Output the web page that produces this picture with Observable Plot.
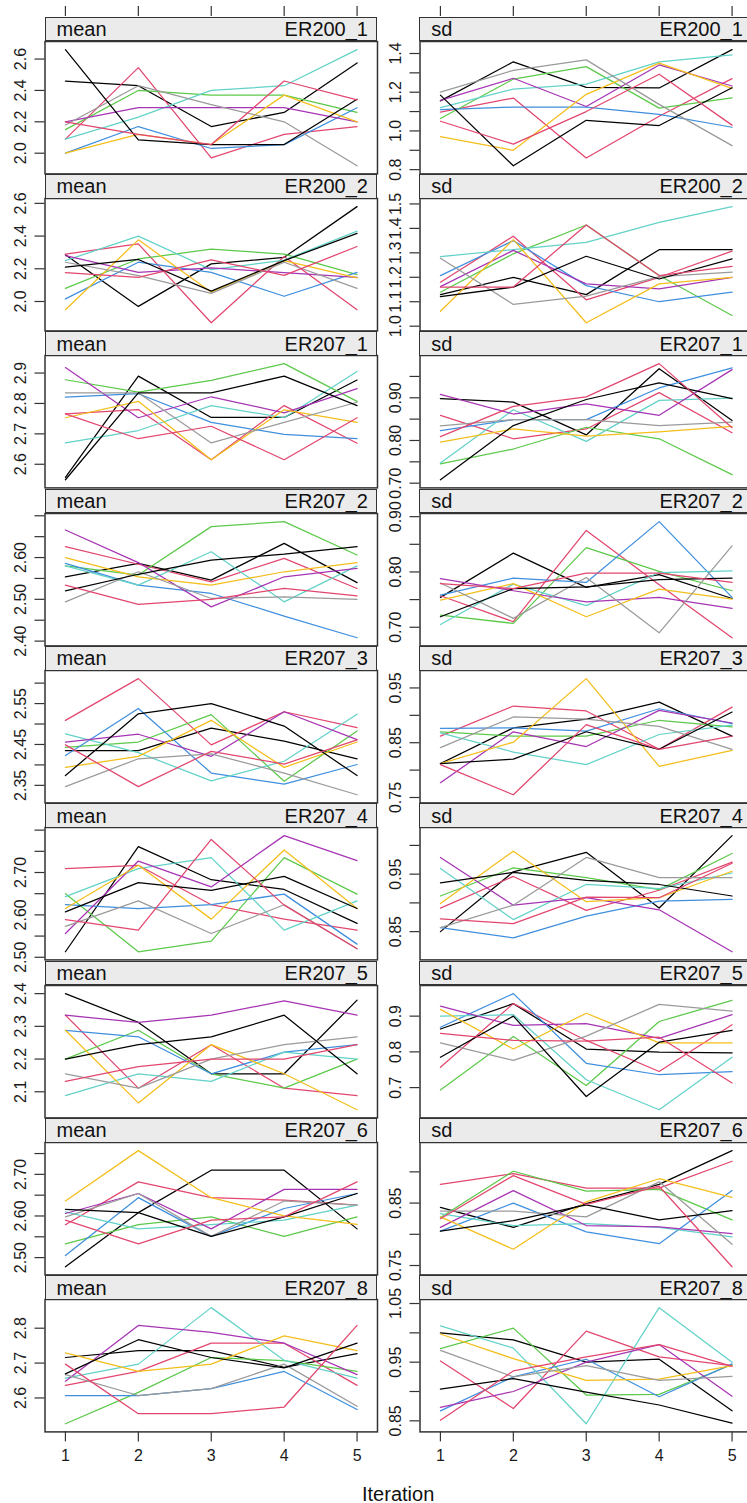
<!DOCTYPE html>
<html>
<head>
<meta charset="utf-8">
<script src="https://cdn.jsdelivr.net/npm/d3@7"></script>
<script src="https://cdn.jsdelivr.net/npm/@observablehq/plot@0.6"></script>
<style>
  html, body { margin: 0; padding: 0; background: #fff; overflow: hidden; width: 747px; height: 1503px; }
  #chart { position: relative; width: 747px; height: 1503px; font-family: "Liberation Sans", Arial, Helvetica, sans-serif; color: #111; }
  .strip { position: absolute; box-sizing: border-box; background: #ebebeb; border: 1.5px solid #333;
           display: flex; justify-content: space-between; align-items: center;
           font-size: 20px; line-height: 1; padding: 0 8px 0 11px; white-space: nowrap; }
  .panel { position: absolute; }
  .panel svg { overflow: visible; display: block; }
  .xtitle { position: absolute; font-size: 20px; text-align: center; line-height: 24px; }
</style>
</head>
<body>
<div id="chart"></div>
<script>
// Convergence traces of the imputation chains: mean and sd per variable, 5 iterations, 10 chains.
const iterations = [1, 2, 3, 4, 5];
const variables = ["ER200_1", "ER200_2", "ER207_1", "ER207_2", "ER207_3", "ER207_4", "ER207_5", "ER207_6", "ER207_8"];
const statistics = ["mean", "sd"];
// chain colours (palette recycled for chains 9 and 10)
const chainColors = ["#000000", "#E2466E", "#5CC94A", "#3F8FDE", "#62D2C8", "#A634B3", "#F4BE1B", "#9A9A9A", "#000000", "#E2466E"];

// one row per chain, one value per iteration
const mean_ER200_1 = [
  [2.46, 2.43, 2.17, 2.26, 2.575], [2.09, 2.545, 1.97, 2.12, 2.17], [2.15, 2.40, 2.37, 2.37, 2.26],
  [2.00, 2.17, 2.03, 2.055, 2.29], [2.09, 2.23, 2.40, 2.43, 2.66], [2.20, 2.29, 2.29, 2.29, 2.20],
  [2.00, 2.12, 2.055, 2.37, 2.20], [2.18, 2.43, 2.31, 2.20, 1.92], [2.66, 2.085, 2.055, 2.055, 2.344],
  [2.20, 2.12, 2.055, 2.46, 2.34]];
const sd_ER200_1 = [
  [1.155, 1.357, 1.225, 1.222, 1.42], [1.097, 1.17, 0.86, 1.076, 1.27], [1.064, 1.268, 1.332, 1.118, 1.171],
  [1.11, 1.123, 1.123, 1.085, 1.019], [1.12, 1.216, 1.242, 1.357, 1.393], [1.158, 1.272, 1.126, 1.341, 1.232],
  [0.97, 0.90, 1.189, 1.35, 1.22], [1.20, 1.313, 1.367, 1.137, 0.924], [1.185, 0.82, 1.055, 1.028, 1.223],
  [1.05, 0.932, 1.10, 1.293, 1.03]];
const mean_ER200_2 = [
  [2.286, 1.97, 2.23, 2.27, 2.58], [2.29, 2.352, 1.87, 2.275, 1.95], [2.08, 2.26, 2.32, 2.29, 2.164],
  [2.016, 2.24, 2.178, 2.032, 2.178], [2.25, 2.40, 2.195, 2.253, 2.43], [2.28, 2.178, 2.205, 2.176, 2.148],
  [1.95, 2.377, 2.057, 2.25, 2.144], [2.24, 2.158, 2.05, 2.24, 2.08], [2.21, 2.257, 2.063, 2.25, 2.417],
  [2.176, 2.148, 2.255, 2.16, 2.336]];
const sd_ER200_2 = [
  [1.129, 1.20, 1.129, 1.313, 1.313], [1.18, 1.368, 1.108, 1.20, 1.307], [1.139, 1.296, 1.414, 1.207, 1.044],
  [1.207, 1.35, 1.166, 1.10, 1.139], [1.285, 1.313, 1.343, 1.425, 1.489], [1.162, 1.31, 1.173, 1.153, 1.20],
  [1.061, 1.354, 1.014, 1.173, 1.20], [1.278, 1.089, 1.123, 1.203, 1.221], [1.121, 1.16, 1.286, 1.193, 1.275],
  [1.16, 1.16, 1.414, 1.207, 1.245]];
const mean_ER207_1 = [
  [2.557, 2.89, 2.754, 2.754, 2.877], [2.766, 2.78, 2.615, 2.793, 2.669], [2.878, 2.837, 2.876, 2.931, 2.807],
  [2.821, 2.832, 2.738, 2.698, 2.684], [2.67, 2.711, 2.793, 2.753, 2.905], [2.918, 2.753, 2.822, 2.769, 2.849],
  [2.753, 2.807, 2.615, 2.779, 2.738], [2.835, 2.835, 2.67, 2.738, 2.804], [2.549, 2.835, 2.835, 2.89, 2.793],
  [2.766, 2.684, 2.725, 2.615, 2.753]];
const sd_ER207_1 = [
  [0.898, 0.89, 0.813, 0.968, 0.847], [0.859, 0.804, 0.827, 0.912, 0.818], [0.745, 0.78, 0.831, 0.804, 0.72],
  [0.823, 0.849, 0.849, 0.923, 0.97], [0.747, 0.872, 0.798, 0.894, 0.899], [0.908, 0.862, 0.886, 0.859, 0.966],
  [0.796, 0.827, 0.81, 0.82, 0.833], [0.834, 0.849, 0.849, 0.835, 0.843], [0.708, 0.835, 0.896, 0.935, 0.898],
  [0.809, 0.88, 0.902, 0.98, 0.83]];
const mean_ER207_2 = [
  [2.554, 2.586, 2.546, 2.634, 2.54], [2.626, 2.584, 2.542, 2.598, 2.526], [2.58, 2.558, 2.674, 2.686, 2.606],
  [2.586, 2.534, 2.514, 2.46, 2.408], [2.58, 2.534, 2.614, 2.494, 2.58], [2.666, 2.588, 2.482, 2.554, 2.574],
  [2.60, 2.554, 2.534, 2.566, 2.588], [2.494, 2.566, 2.502, 2.506, 2.50], [2.52, 2.56, 2.594, 2.608, 2.626],
  [2.534, 2.488, 2.50, 2.526, 2.508]];
const sd_ER207_2 = [
  [0.754, 0.834, 0.772, 0.795, 0.752], [0.757, 0.71, 0.875, 0.777, 0.681], [0.722, 0.707, 0.844, 0.801, 0.766],
  [0.758, 0.789, 0.781, 0.891, 0.754], [0.705, 0.778, 0.739, 0.799, 0.802], [0.788, 0.766, 0.746, 0.754, 0.734],
  [0.749, 0.779, 0.719, 0.769, 0.751], [0.78, 0.716, 0.79, 0.69, 0.847], [0.719, 0.77, 0.773, 0.786, 0.789],
  [0.779, 0.77, 0.798, 0.798, 0.781]];
const mean_ER207_3 = [
  [2.435, 2.435, 2.49, 2.458, 2.415], [2.509, 2.611, 2.449, 2.53, 2.491], [2.443, 2.456, 2.523, 2.36, 2.483],
  [2.423, 2.538, 2.38, 2.353, 2.401], [2.476, 2.43, 2.361, 2.409, 2.524], [2.456, 2.475, 2.421, 2.53, 2.462],
  [2.394, 2.421, 2.509, 2.394, 2.456], [2.347, 2.415, 2.427, 2.38, 2.327], [2.374, 2.525, 2.55, 2.495, 2.374],
  [2.449, 2.347, 2.433, 2.402, 2.461]];
const sd_ER207_3 = [
  [0.812, 0.877, 0.893, 0.924, 0.862], [0.862, 0.917, 0.908, 0.838, 0.915], [0.87, 0.862, 0.862, 0.891, 0.879],
  [0.876, 0.877, 0.871, 0.912, 0.885], [0.868, 0.833, 0.81, 0.865, 0.882], [0.777, 0.87, 0.843, 0.909, 0.886],
  [0.812, 0.851, 0.967, 0.807, 0.836], [0.841, 0.897, 0.893, 0.88, 0.838], [0.812, 0.82, 0.87, 0.838, 0.906],
  [0.81, 0.755, 0.883, 0.838, 0.862]];
const mean_ER207_4 = [
  [2.513, 2.761, 2.683, 2.66, 2.58], [2.709, 2.717, 2.624, 2.59, 2.564], [2.65, 2.513, 2.538, 2.735, 2.649],
  [2.624, 2.615, 2.624, 2.649, 2.531], [2.643, 2.709, 2.735, 2.564, 2.633], [2.556, 2.727, 2.666, 2.787, 2.728],
  [2.615, 2.717, 2.59, 2.753, 2.615], [2.573, 2.633, 2.556, 2.624, 2.52], [2.607, 2.676, 2.658, 2.691, 2.615],
  [2.589, 2.564, 2.778, 2.623, 2.52]];
const sd_ER207_4 = [
  [0.85, 0.954, 0.988, 0.891, 1.017], [0.891, 0.946, 0.887, 0.922, 0.971], [0.912, 0.961, 0.944, 0.923, 0.986],
  [0.857, 0.839, 0.877, 0.903, 0.906], [0.96, 0.871, 0.932, 0.925, 0.952], [0.979, 0.896, 0.909, 0.888, 0.815],
  [0.899, 0.99, 0.902, 0.909, 0.955], [0.857, 0.896, 0.979, 0.944, 0.944], [0.935, 0.953, 0.939, 0.932, 0.912],
  [0.872, 0.864, 0.91, 0.909, 0.969]];
const mean_ER207_5 = [
  [2.40, 2.312, 2.155, 2.155, 2.38], [2.334, 2.111, 2.244, 2.111, 2.088], [2.20, 2.288, 2.155, 2.111, 2.20],
  [2.288, 2.268, 2.155, 2.221, 2.244], [2.088, 2.155, 2.132, 2.221, 2.20], [2.334, 2.312, 2.334, 2.378, 2.334],
  [2.288, 2.066, 2.244, 2.155, 2.045], [2.155, 2.111, 2.20, 2.244, 2.268], [2.20, 2.244, 2.268, 2.334, 2.155],
  [2.132, 2.177, 2.20, 2.20, 2.244]];
const sd_ER207_5 = [
  [0.864, 0.935, 0.808, 0.799, 0.797], [0.757, 0.935, 0.832, 0.745, 0.876], [0.693, 0.843, 0.706, 0.885, 0.944],
  [0.869, 0.963, 0.768, 0.736, 0.745], [0.90, 0.904, 0.722, 0.638, 0.785], [0.928, 0.874, 0.879, 0.838, 0.904],
  [0.919, 0.808, 0.908, 0.825, 0.825], [0.825, 0.776, 0.844, 0.933, 0.914], [0.785, 0.90, 0.675, 0.827, 0.86],
  [0.852, 0.832, 0.83, 0.841, 0.713]];
const mean_ER207_6 = [
  [2.478, 2.608, 2.71, 2.71, 2.569], [2.579, 2.682, 2.644, 2.638, 2.626], [2.533, 2.579, 2.598, 2.551, 2.598],
  [2.505, 2.644, 2.551, 2.618, 2.654], [2.61, 2.569, 2.579, 2.59, 2.626], [2.606, 2.654, 2.569, 2.664, 2.664],
  [2.636, 2.757, 2.644, 2.60, 2.58], [2.598, 2.654, 2.551, 2.636, 2.626], [2.616, 2.608, 2.551, 2.598, 2.654],
  [2.59, 2.533, 2.59, 2.598, 2.682]];
const sd_ER207_6 = [
  [0.843, 0.811, 0.849, 0.88, 0.934], [0.88, 0.897, 0.874, 0.874, 0.917], [0.827, 0.901, 0.869, 0.872, 0.823],
  [0.805, 0.85, 0.804, 0.785, 0.87], [0.833, 0.814, 0.817, 0.811, 0.796], [0.811, 0.87, 0.814, 0.812, 0.801],
  [0.828, 0.776, 0.852, 0.889, 0.859], [0.837, 0.837, 0.828, 0.884, 0.784], [0.805, 0.822, 0.847, 0.823, 0.838],
  [0.825, 0.894, 0.848, 0.877, 0.748]];
const mean_ER207_8 = [
  [2.716, 2.736, 2.736, 2.688, 2.727], [2.636, 2.676, 2.757, 2.757, 2.636], [2.526, 2.616, 2.716, 2.707, 2.676],
  [2.607, 2.607, 2.627, 2.676, 2.567], [2.657, 2.697, 2.859, 2.708, 2.657], [2.648, 2.808, 2.788, 2.757, 2.667],
  [2.729, 2.676, 2.697, 2.778, 2.736], [2.667, 2.607, 2.627, 2.697, 2.576], [2.669, 2.767, 2.716, 2.686, 2.757],
  [2.697, 2.555, 2.555, 2.574, 2.808]];
const sd_ER207_8 = [
  [1.00, 0.988, 0.95, 0.955, 0.867], [0.952, 0.871, 1.003, 0.959, 0.944], [0.973, 1.008, 0.894, 0.895, 0.946],
  [0.867, 0.925, 0.955, 0.891, 0.947], [1.012, 0.974, 0.845, 1.043, 0.95], [0.873, 0.90, 0.95, 0.98, 0.892],
  [0.998, 0.956, 0.919, 0.921, 0.944], [0.97, 0.925, 0.944, 0.919, 0.926], [0.904, 0.922, 0.899, 0.877, 0.846],
  [0.851, 0.935, 0.959, 0.98, 0.943]];

// y tick positions and the tick labels printed beside them
const yTicks_mean_ER200_1 = [2.0, 2.2, 2.4, 2.6];
const yLabels_mean_ER200_1 = ["2.0", "2.2", "2.4", "2.6"];
const yTicks_sd_ER200_1 = [0.8, 0.9, 1.0, 1.1, 1.2, 1.3, 1.4];
const yLabels_sd_ER200_1 = ["0.8", "1.0", "1.2", "1.4"];
const yTicks_mean_ER200_2 = [2.0, 2.2, 2.4, 2.6];
const yLabels_mean_ER200_2 = ["2.0", "2.2", "2.4", "2.6"];
const yTicks_sd_ER200_2 = [1.0, 1.1, 1.2, 1.3, 1.4, 1.5];
const yLabels_sd_ER200_2 = ["1.0", "1.1", "1.2", "1.3", "1.4", "1.5"];
const yTicks_mean_ER207_1 = [2.6, 2.7, 2.8, 2.9];
const yLabels_mean_ER207_1 = ["2.6", "2.7", "2.8", "2.9"];
const yTicks_sd_ER207_1 = [0.70, 0.75, 0.80, 0.85, 0.90, 0.95];
const yLabels_sd_ER207_1 = ["0.70", "0.80", "0.90"];
const yTicks_mean_ER207_2 = [2.40, 2.45, 2.50, 2.55, 2.60, 2.65, 2.70];
const yLabels_mean_ER207_2 = ["2.40", "2.50", "2.60"];
const yTicks_sd_ER207_2 = [0.70, 0.75, 0.80, 0.85, 0.90];
const yLabels_sd_ER207_2 = ["0.70", "0.80", "0.90"];
const yTicks_mean_ER207_3 = [2.35, 2.40, 2.45, 2.50, 2.55, 2.60];
const yLabels_mean_ER207_3 = ["2.35", "2.45", "2.55"];
const yTicks_sd_ER207_3 = [0.75, 0.80, 0.85, 0.90, 0.95];
const yLabels_sd_ER207_3 = ["0.75", "0.85", "0.95"];
const yTicks_mean_ER207_4 = [2.50, 2.55, 2.60, 2.65, 2.70, 2.75, 2.80];
const yLabels_mean_ER207_4 = ["2.50", "2.60", "2.70"];
const yTicks_sd_ER207_4 = [0.85, 0.90, 0.95, 1.00];
const yLabels_sd_ER207_4 = ["0.85", "0.95"];
const yTicks_mean_ER207_5 = [2.1, 2.2, 2.3, 2.4];
const yLabels_mean_ER207_5 = ["2.1", "2.2", "2.3", "2.4"];
const yTicks_sd_ER207_5 = [0.7, 0.8, 0.9];
const yLabels_sd_ER207_5 = ["0.7", "0.8", "0.9"];
const yTicks_mean_ER207_6 = [2.50, 2.55, 2.60, 2.65, 2.70, 2.75];
const yLabels_mean_ER207_6 = ["2.50", "2.60", "2.70"];
const yTicks_sd_ER207_6 = [0.75, 0.80, 0.85, 0.90];
const yLabels_sd_ER207_6 = ["0.75", "0.85"];
const yTicks_mean_ER207_8 = [2.6, 2.7, 2.8];
const yLabels_mean_ER207_8 = ["2.6", "2.7", "2.8"];
const yTicks_sd_ER207_8 = [0.85, 0.90, 0.95, 1.00, 1.05];
const yLabels_sd_ER207_8 = ["0.85", "0.95", "1.05"];

const panelSpecs = [
  [mean_ER200_1, yTicks_mean_ER200_1, yLabels_mean_ER200_1, sd_ER200_1, yTicks_sd_ER200_1, yLabels_sd_ER200_1],
  [mean_ER200_2, yTicks_mean_ER200_2, yLabels_mean_ER200_2, sd_ER200_2, yTicks_sd_ER200_2, yLabels_sd_ER200_2],
  [mean_ER207_1, yTicks_mean_ER207_1, yLabels_mean_ER207_1, sd_ER207_1, yTicks_sd_ER207_1, yLabels_sd_ER207_1],
  [mean_ER207_2, yTicks_mean_ER207_2, yLabels_mean_ER207_2, sd_ER207_2, yTicks_sd_ER207_2, yLabels_sd_ER207_2],
  [mean_ER207_3, yTicks_mean_ER207_3, yLabels_mean_ER207_3, sd_ER207_3, yTicks_sd_ER207_3, yLabels_sd_ER207_3],
  [mean_ER207_4, yTicks_mean_ER207_4, yLabels_mean_ER207_4, sd_ER207_4, yTicks_sd_ER207_4, yLabels_sd_ER207_4],
  [mean_ER207_5, yTicks_mean_ER207_5, yLabels_mean_ER207_5, sd_ER207_5, yTicks_sd_ER207_5, yLabels_sd_ER207_5],
  [mean_ER207_6, yTicks_mean_ER207_6, yLabels_mean_ER207_6, sd_ER207_6, yTicks_sd_ER207_6, yLabels_sd_ER207_6],
  [mean_ER207_8, yTicks_mean_ER207_8, yLabels_mean_ER207_8, sd_ER207_8, yTicks_sd_ER207_8, yLabels_sd_ER207_8]
];

// layout of the 9 x 2 panel grid
const FONT = '"Liberation Sans", Arial, Helvetica, sans-serif';
const FRAME_LEFT = [44.5, 419.3];
const FRAME_W = 332.5;
const FRAME_TOP0 = 40.7;
const PITCH = 157.33;
const FRAME_H = 132.4;
const STRIP_H = 24.9;
const M_LEFT = 44.5;
const BOTTOM_M = 46;
const AXIS_COLOR = "#333";
const PAD = 0.07; // lattice-style padding of each scale range

const xExt = d3.extent(iterations);
const xDomain = [xExt[0] - PAD * (xExt[1] - xExt[0]), xExt[1] + PAD * (xExt[1] - xExt[0])];

const chart = document.getElementById("chart");

function place(node, left, top) {
  const wrap = document.createElement("div");
  wrap.className = "panel";
  wrap.style.left = left + "px";
  wrap.style.top = top + "px";
  wrap.appendChild(node);
  chart.appendChild(wrap);
}

function drawPanel(values, ticks, labels, stat, variable, row, col) {
  const rows = values.flatMap((series, chain) =>
    series.map((v, i) => ({chain, iteration: iterations[i], value: v})));
  const [lo, hi] = d3.extent(rows, d => d.value);
  const yDomain = [lo - PAD * (hi - lo), hi + PAD * (hi - lo)];
  const last = row === variables.length - 1;
  const frameTop = FRAME_TOP0 + row * PITCH;

  const marks = [
    Plot.axisY(ticks, {tickSize: 10, tickFormat: () => "", stroke: AXIS_COLOR, strokeWidth: 1.2, label: null}),
    Plot.text(labels, {y: d => +d, text: d => d, frameAnchor: "left", dx: -24, rotate: -90,
                       textAnchor: "middle", lineAnchor: "middle", fontSize: 16, fill: "#1a1a1a"}),
    Plot.line(rows, {x: "iteration", y: "value", z: "chain", stroke: "chain", strokeWidth: 1.25}),
    Plot.frame({stroke: AXIS_COLOR, strokeWidth: 1.5})
  ];
  if (last) {
    marks.push(Plot.axisX(iterations, {tickSize: 10, tickPadding: 8, fontSize: 16, stroke: AXIS_COLOR,
                                       strokeWidth: 1.2, fill: "#1a1a1a", label: null}));
  }

  const svg = Plot.plot({
    width: M_LEFT + FRAME_W + 2,
    height: FRAME_H + (last ? BOTTOM_M : 0),
    marginLeft: M_LEFT, marginRight: 2, marginTop: 0, marginBottom: last ? BOTTOM_M : 0,
    style: {overflow: "visible", background: "transparent", fontFamily: FONT, maxWidth: "none"},
    x: {domain: xDomain, axis: last ? undefined : null, label: null},
    y: {domain: yDomain, label: null},
    color: {domain: d3.range(chainColors.length), range: chainColors},
    marks
  });
  place(svg, FRAME_LEFT[col] - M_LEFT, frameTop);

  // strip with the statistic and the variable name
  const strip = document.createElement("div");
  strip.className = "strip";
  strip.style.left = FRAME_LEFT[col] + "px";
  strip.style.top = (frameTop - STRIP_H + 0.75) + "px";
  strip.style.width = FRAME_W + "px";
  strip.style.height = STRIP_H + "px";
  const a = document.createElement("span"); a.textContent = stat;
  const b = document.createElement("span"); b.textContent = variable;
  strip.append(a, b);
  chart.appendChild(strip);

  // tick marks above the top row
  if (row === 0) {
    const top = Plot.plot({
      width: M_LEFT + FRAME_W + 2, height: 10,
      marginLeft: M_LEFT, marginRight: 2, marginTop: 0, marginBottom: 0,
      style: {overflow: "visible", background: "transparent", maxWidth: "none"},
      x: {domain: xDomain, axis: null},
      marks: [Plot.tickX(iterations, {x: d => d, stroke: AXIS_COLOR, strokeWidth: 1.2})]
    });
    place(top, FRAME_LEFT[col] - M_LEFT, frameTop - STRIP_H - 10);
  }
}

variables.forEach((variable, row) => {
  const [mv, mt, ml, sv, st, sl] = panelSpecs[row];
  drawPanel(mv, mt, ml, statistics[0], variable, row, 0);
  drawPanel(sv, st, sl, statistics[1], variable, row, 1);
});

// shared x-axis title
const xt = document.createElement("div");
xt.className = "xtitle";
xt.textContent = "Iteration";
const xCenter = (FRAME_LEFT[0] + FRAME_LEFT[1] + FRAME_W) / 2;
xt.style.left = (xCenter - 100) + "px";
xt.style.width = "200px";
xt.style.top = (FRAME_TOP0 + (variables.length - 1) * PITCH + FRAME_H + 50) + "px";
chart.appendChild(xt);
</script>
</body>
</html>
